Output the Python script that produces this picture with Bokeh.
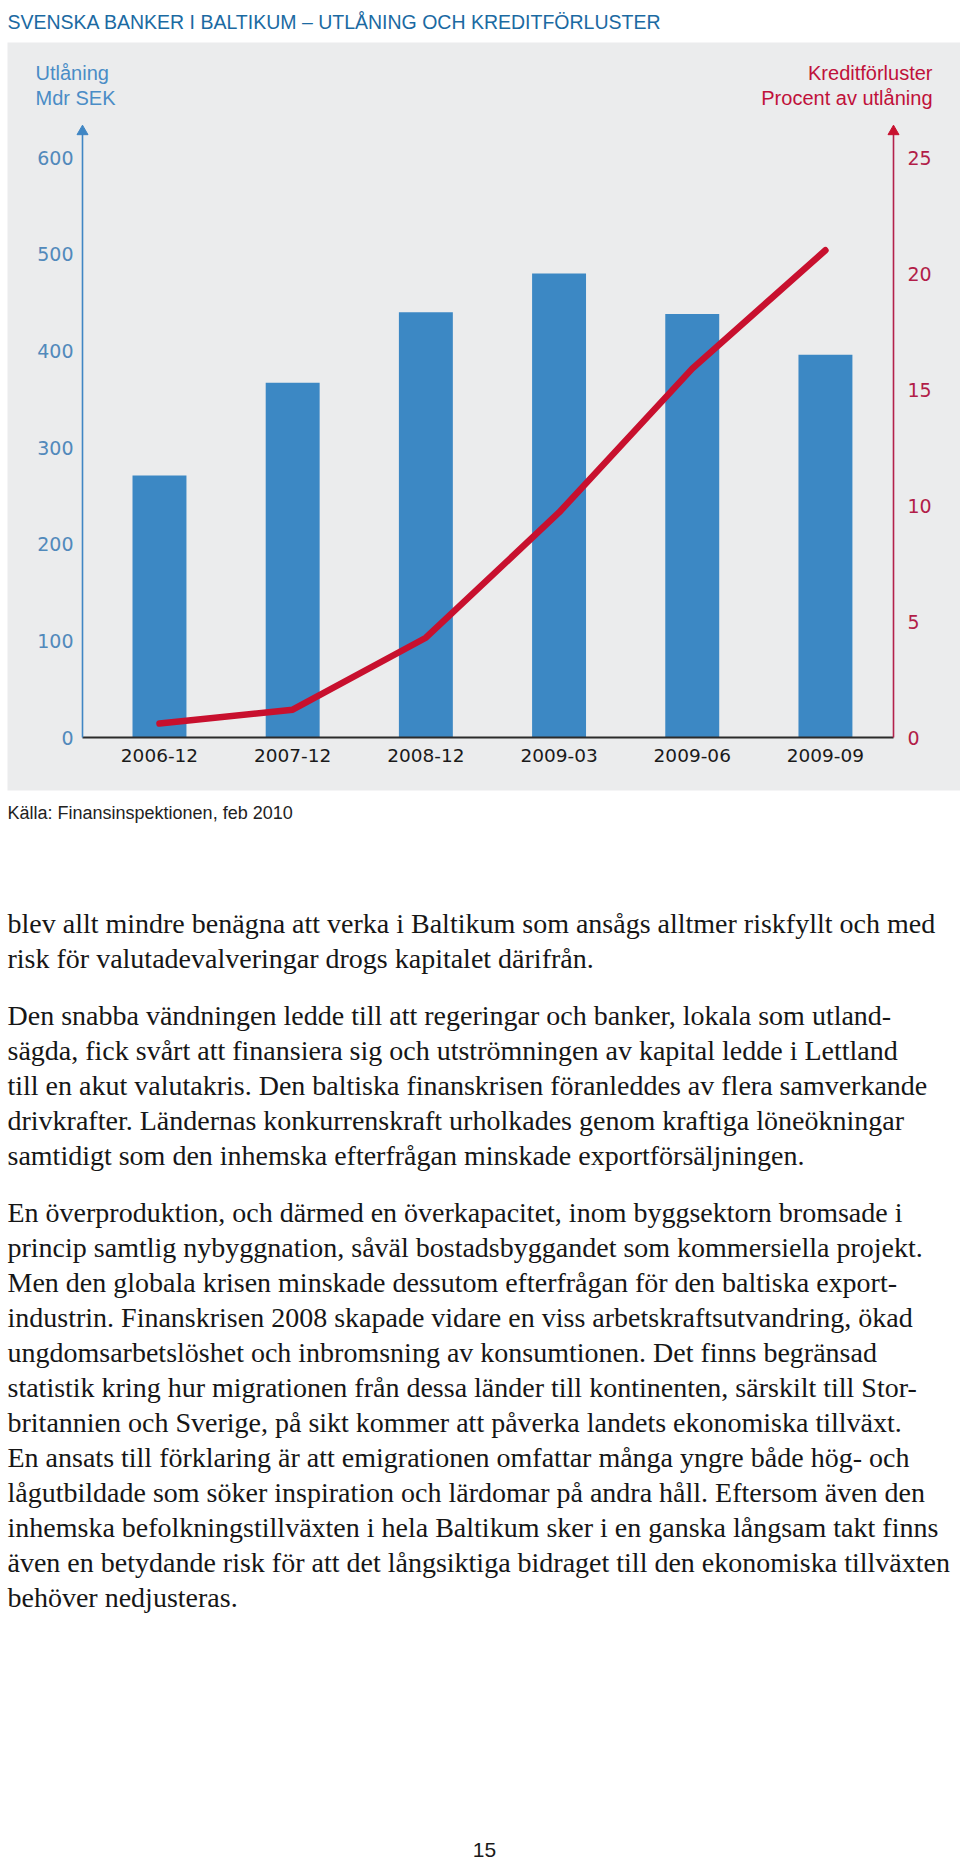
from bokeh.plotting import figure
from bokeh.models import Range1d
from bokeh.core.properties import value
from bokeh.embed import file_html
from bokeh.resources import INLINE

# ---------------- data ----------------
categories = ["2006-12", "2007-12", "2008-12", "2009-03", "2009-06", "2009-09"]
lending = [271, 367, 440, 480, 438, 396]            # Mdr SEK (left axis)
credit_losses = [0.6, 1.2, 4.3, 9.7, 15.9, 21.0]    # % av utlåning (right axis)
left_ticks = [0, 100, 200, 300, 400, 500, 600]
right_ticks = [0, 5, 10, 15, 20, 25]

title_text = "SVENSKA BANKER I BALTIKUM \u2013 UTL\u00c5NING OCH KREDITF\u00d6RLUSTER"
left_title = ["Utl\u00e5ning", "Mdr SEK"]
right_title = ["Kreditf\u00f6rluster", "Procent av utl\u00e5ning"]
source_text = "K\u00e4lla: Finansinspektionen, feb 2010"
page_number = "15"

paragraphs = [
    ["blev allt mindre ben\u00e4gna att verka i Baltikum som ans\u00e5gs alltmer riskfyllt och med",
     "risk f\u00f6r valutadevalveringar drogs kapitalet d\u00e4rifr\u00e5n."],
    ["Den snabba v\u00e4ndningen ledde till att regeringar och banker, lokala som utland-",
     "s\u00e4gda, fick sv\u00e5rt att finansiera sig och utstr\u00f6mningen av kapital ledde i Lettland",
     "till en akut valutakris. Den baltiska finanskrisen f\u00f6ranleddes av flera samverkande",
     "drivkrafter. L\u00e4ndernas konkurrenskraft urholkades genom kraftiga l\u00f6ne\u00f6kningar",
     "samtidigt som den inhemska efterfr\u00e5gan minskade exportf\u00f6rs\u00e4ljningen."],
    ["En \u00f6verproduktion, och d\u00e4rmed en \u00f6verkapacitet, inom byggsektorn bromsade i",
     "princip samtlig nybyggnation, s\u00e5v\u00e4l bostadsbyggandet som kommersiella projekt.",
     "Men den globala krisen minskade dessutom efterfr\u00e5gan f\u00f6r den baltiska export-",
     "industrin. Finanskrisen 2008 skapade vidare en viss arbetskraftsutvandring, \u00f6kad",
     "ungdomsarbetsl\u00f6shet och inbromsning av konsumtionen. Det finns begr\u00e4nsad",
     "statistik kring hur migrationen fr\u00e5n dessa l\u00e4nder till kontinenten, s\u00e4rskilt till Stor-",
     "britannien och Sverige, p\u00e5 sikt kommer att p\u00e5verka landets ekonomiska tillv\u00e4xt.",
     "En ansats till f\u00f6rklaring \u00e4r att emigrationen omfattar m\u00e5nga yngre b\u00e5de h\u00f6g- och",
     "l\u00e5gutbildade som s\u00f6ker inspiration och l\u00e4rdomar p\u00e5 andra h\u00e5ll. Eftersom \u00e4ven den",
     "inhemska befolkningstillv\u00e4xten i hela Baltikum sker i en ganska l\u00e5ngsam takt finns",
     "\u00e4ven en betydande risk f\u00f6r att det l\u00e5ngsiktiga bidraget till den ekonomiska tillv\u00e4xten",
     "beh\u00f6ver nedjusteras."],
]

# ---------------- layout ----------------
W, H = 960, 1860
FL, FR, FT, FB = 82, 893, 157, 737          # chart plot area in page pixels
X_LO, X_HI = -0.578, 5.511                  # category-index range over plot area

BLUE_BAR = "#3c88c4"
BLUE_AXIS = "#3f86c4"
BLUE_TXT = "#5189bb"
RED_LINE = "#c8102e"
RED_AXIS = "#b3214b"
RED_TXT = "#b21d48"
GRAY_BG = "#ebeced"
TITLE_COL = "#1b6aa2"
SANS = "Liberation Sans"
TICK_FONT = "DejaVu Sans"
SERIF = "Liberation Serif"


def x_full(lo, hi, a, b):
    k = (hi - lo) / (b - a)
    return Range1d(lo - a * k, hi + (W - b) * k)


def y_full(lo, hi, bottom_px, top_px):
    k = (hi - lo) / (bottom_px - top_px)
    return Range1d(lo - (H - bottom_px) * k, hi + top_px * k)


idx = list(range(len(categories)))

# page-pixel coordinate system (y grows downwards) for the page furniture
p = figure(width=W, height=H, output_backend="svg", toolbar_location=None,
           x_range=Range1d(0, W), y_range=Range1d(H, 0),
           x_axis_location=None, y_axis_location=None,
           min_border=0, background_fill_color="white", border_fill_color="white")
p.outline_line_color = None
p.grid.visible = False

p.extra_x_ranges = {"cat": x_full(X_LO, X_HI, FL, FR)}
p.extra_y_ranges = {"lend": y_full(left_ticks[0], left_ticks[-1], FB, FT),
                    "pct": y_full(right_ticks[0], right_ticks[-1], FB, FT)}

# gray panel
p.quad(left=[7], right=[W], top=[42], bottom=[790], fill_color=GRAY_BG, line_color=None)

# bars and line (data coordinates through the scales)
p.vbar(x=idx, top=lending, bottom=0, width=0.405, fill_color=BLUE_BAR, line_color=None,
       x_range_name="cat", y_range_name="lend")
p.line(x=idx, y=credit_losses, line_color=RED_LINE, line_width=6.5,
       line_cap="round", line_join="round", x_range_name="cat", y_range_name="pct")

# x axis line
p.segment(x0=[X_LO], x1=[X_HI], y0=[0], y1=[0], line_color="#2b2b2b", line_width=2,
          x_range_name="cat", y_range_name="lend")

# vertical axes with arrow heads
p.segment(x0=[FL], x1=[FL], y0=[FB], y1=[130], line_color=BLUE_AXIS, line_width=1.6)
p.scatter(x=[FL], y=[131], marker="triangle", size=11, fill_color=BLUE_AXIS, line_color=BLUE_AXIS)
p.segment(x0=[FR], x1=[FR], y0=[FB], y1=[130], line_color=RED_AXIS, line_width=1.6)
p.scatter(x=[FR], y=[131], marker="triangle", size=11, fill_color=RED_LINE, line_color=RED_LINE)

# tick labels
p.text(x=[FL - 9] * len(left_ticks), y=left_ticks, text=[str(t) for t in left_ticks],
       y_range_name="lend", text_align="right", text_baseline="middle",
       text_font=value(TICK_FONT), text_font_size="19px", text_color=BLUE_TXT)
p.text(x=[FR + 14] * len(right_ticks), y=right_ticks, text=[str(t) for t in right_ticks],
       y_range_name="pct", text_align="left", text_baseline="middle",
       text_font=value(TICK_FONT), text_font_size="19px", text_color=RED_TXT)
p.text(x=idx, y=[FB + 11] * len(idx), text=categories, x_range_name="cat",
       text_align="center", text_baseline="top",
       text_font=value(TICK_FONT), text_font_size="18.5px", text_color="#1a1a1a")


def add_text(x, y, text, size, color, font=SANS, align="left"):
    p.text(x=[x], y=[y], text=[text], text_font=value(font), text_font_size=size,
           text_color=color, text_align=align, text_baseline="middle")


add_text(7, 21, title_text, "19.5px", TITLE_COL)
add_text(35, 72, left_title[0], "20px", "#4a8cc6")
add_text(35, 97, left_title[1], "20px", "#4a8cc6")
add_text(932, 72, right_title[0], "20px", "#c0113a", align="right")
add_text(932, 97, right_title[1], "20px", "#c0113a", align="right")
add_text(7, 812, source_text, "18px", "#222222")

y = 923
for pi, para in enumerate(paragraphs):
    if pi > 0:
        y += 57 - 35
    for line in para:
        add_text(7, y, line, "28px", "#161616", font=SERIF)
        y += 35

add_text(484, 1849, page_number, "21px", "#1a1a1a", align="center")

open("out.html", "w").write(file_html(p, INLINE))
